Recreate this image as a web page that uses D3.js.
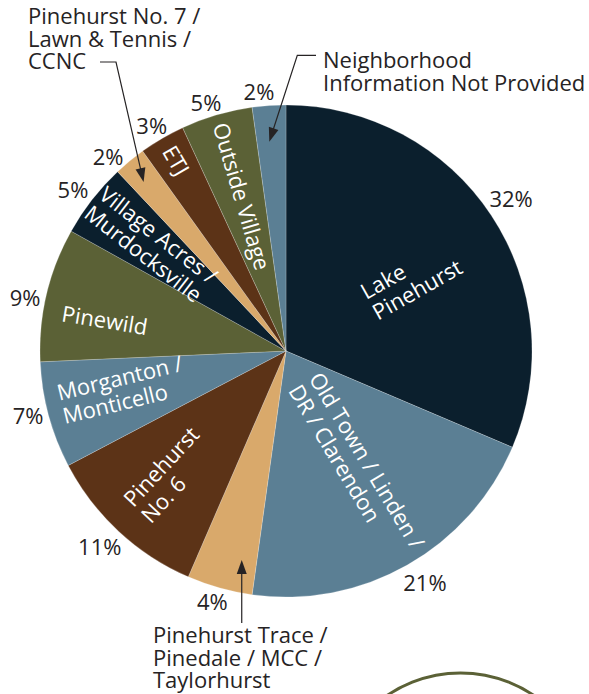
<!DOCTYPE html>
<html>
<head>
<meta charset="utf-8">
<script src="https://cdn.jsdelivr.net/npm/d3@7/dist/d3.min.js"></script>
<style>
  html, body { margin: 0; padding: 0; background: #ffffff; }
  svg { display: block; }
  text { font-family: "Open Sans", "Noto Sans", sans-serif; }
</style>
</head>
<body>
<svg id="chart" width="589" height="694"></svg>
<script>
// ---- data ----
const categories = [
  "Lake Pinehurst",
  "Old Town / Linden / DR / Clarendon",
  "Pinehurst Trace / Pinedale / MCC / Taylorhurst",
  "Pinehurst No. 6",
  "Morganton / Monticello",
  "Pinewild",
  "Village Acres / Murdocksville",
  "Pinehurst No. 7 / Lawn & Tennis / CCNC",
  "ETJ",
  "Outside Village",
  "Neighborhood Information Not Provided"
];
const values = [31.4, 20.8, 4.3, 10.8, 7.0, 8.8, 4.9, 2.1, 3.0, 4.7, 2.2];
const percentLabels = ["32%", "21%", "4%", "11%", "7%", "9%", "5%", "2%", "3%", "5%", "2%"];
const sliceLabelLines = [
  ["Lake", "Pinehurst"],
  ["Old Town / Linden /", "DR / Clarendon"],
  null,
  ["Pinehurst", "No. 6"],
  ["Morganton /", "Monticello"],
  ["Pinewild"],
  ["Village Acres /", "Murdocksville"],
  null,
  ["ETJ"],
  ["Outside Village"],
  null
];
const calloutLines = {
  2: ["Pinehurst Trace /", "Pinedale / MCC /", "Taylorhurst"],
  7: ["Pinehurst No. 7 /", "Lawn & Tennis /", "CCNC"],
  10: ["Neighborhood", "Information Not Provided"]
};

// ---- style / layout ----
const NAVY = "#0b1f2d", BLUE = "#5b7f94", TAN = "#d9a96b", BROWN = "#5c3317", OLIVE = "#5b6136";
const sliceColors = [NAVY, BLUE, TAN, BROWN, BLUE, OLIVE, NAVY, TAN, BROWN, OLIVE, BLUE];
const TEXT = "#262324";

// in-slice label placement: radius of text start, rotation tweak (deg)
const labelLayout = [
  { r: 95, rot: 4 },
  { r: 35, rot: -1.5 },
  null,
  { r: 219, rot: 0 },
  { r: 232, rot: 1.5 },
  { r: 227, rot: -4 },
  { r: 243, rot: 0 },
  null,
  { r: 235, rot: 0 },
  { r: 237, rot: 0 },
  null
];
// percentage label placement: radius and angle tweak (deg) from slice middle
const pctLayout = [
  { r: 271.5, da: -0.5 }, { r: 270.4, da: -1.4 }, { r: 261.7, da: 0.7 },
  { r: 270.9, da: 0.6 }, { r: 266, da: 1 }, { r: 266.3, da: -1.8 },
  { r: 267, da: -0.9 }, { r: 263.3, da: -3.1 }, { r: 261.9, da: -0.6 },
  { r: 260.6, da: -1.5 }, { r: 260.4, da: -2 }
];

const W = 589, H = 694;
const cx = 286, cy = 351, R = 246;
const fs = 22, lh = 24;

const svg = d3.select("#chart");

// decorative outline circle at lower right
svg.append("circle")
  .attr("cx", 460.5).attr("cy", 804).attr("r", 131)
  .attr("fill", "none").attr("stroke", OLIVE).attr("stroke-width", 3);

const g = svg.append("g").attr("transform", `translate(${cx},${cy})`);

const pie = d3.pie().sort(null).value(d => d).startAngle(0).endAngle(2 * Math.PI);
const arcs = pie(values);
const arc = d3.arc().innerRadius(0).outerRadius(R);

g.selectAll("path.slice")
  .data(arcs)
  .join("path")
  .attr("class", "slice")
  .attr("d", arc)
  .attr("fill", (d, i) => sliceColors[i])
  .attr("stroke", "rgba(255,255,255,0.35)")
  .attr("stroke-width", 0.6);

const midOf = d => (d.startAngle + d.endAngle) / 2;
const polar = (r, a) => [r * Math.sin(a), -r * Math.cos(a)];
const deg = Math.PI / 180;

// percentage labels
g.selectAll("text.pct")
  .data(arcs)
  .join("text")
  .attr("class", "pct")
  .attr("transform", (d, i) => {
    const p = pctLayout[i];
    const [x, y] = polar(p.r, midOf(d) + p.da * deg);
    return `translate(${x},${y})`;
  })
  .attr("text-anchor", "middle")
  .attr("dy", "0.35em")
  .attr("fill", TEXT)
  .attr("font-size", fs)
  .text((d, i) => percentLabels[i]);

// in-slice labels
arcs.forEach((d, i) => {
  const lines = sliceLabelLines[i];
  const lay = labelLayout[i];
  if (!lines || !lay) return;
  const mid = midOf(d);
  const thetaDeg = mid / deg - 90 + lay.rot;
  const th = thetaDeg * deg;
  const x = lay.r * Math.cos(th), y = lay.r * Math.sin(th);
  const rot = mid > Math.PI ? thetaDeg - 180 : thetaDeg;
  const t = g.append("text")
    .attr("transform", `translate(${x},${y}) rotate(${rot})`)
    .attr("text-anchor", "start")
    .attr("fill", "#ffffff")
    .attr("font-size", fs);
  lines.forEach((ln, k) => {
    t.append("tspan")
      .attr("x", 0)
      .attr("y", (k - (lines.length - 1) / 2) * lh + 7)
      .text(ln);
  });
});

// callout text blocks
function block(x, y0, lines) {
  const t = svg.append("text").attr("fill", TEXT).attr("font-size", 22);
  lines.forEach((ln, k) => t.append("tspan").attr("x", x).attr("y", y0 + k * 22.6).text(ln));
}
block(28, 24, calloutLines[7]);
block(323, 68, calloutLines[10]);
block(153, 643, calloutLines[2]);

// leader lines with arrowheads; tips placed inside their slices
function tipFor(i, r, da) {
  const [x, y] = polar(r, midOf(arcs[i]) + da * deg);
  return [cx + x, cy + y];
}
function leader(points) {
  const n = points.length;
  const tip = points[n - 1], prev = points[n - 2];
  const dx = tip[0] - prev[0], dy = tip[1] - prev[1];
  const L = Math.hypot(dx, dy), ux = dx / L, uy = dy / L;
  const len = 14, hw = 5;
  const bx = tip[0] - ux * len, by = tip[1] - uy * len;
  const pts = points.slice(0, n - 1).concat([[bx + ux * 2, by + uy * 2]]);
  svg.append("path")
    .attr("d", d3.line()(pts))
    .attr("fill", "none").attr("stroke", TEXT).attr("stroke-width", 1.2);
  svg.append("path")
    .attr("d", `M${tip[0]},${tip[1]} L${bx - uy * hw},${by + ux * hw} L${bx + uy * hw},${by - ux * hw} Z`)
    .attr("fill", TEXT);
}
const tip7 = tipFor(7, 221, -0.7);
const tip10 = tipFor(10, 210, -0.6);
const tip2 = tipFor(2, 213.6, -3.7);

leader([[100, 62], [116, 62], tip7]);
leader([[316, 55.3], [297.3, 55.3], tip10]);
leader([[tip2[0], 623], tip2]);
</script>
</body>
</html>
